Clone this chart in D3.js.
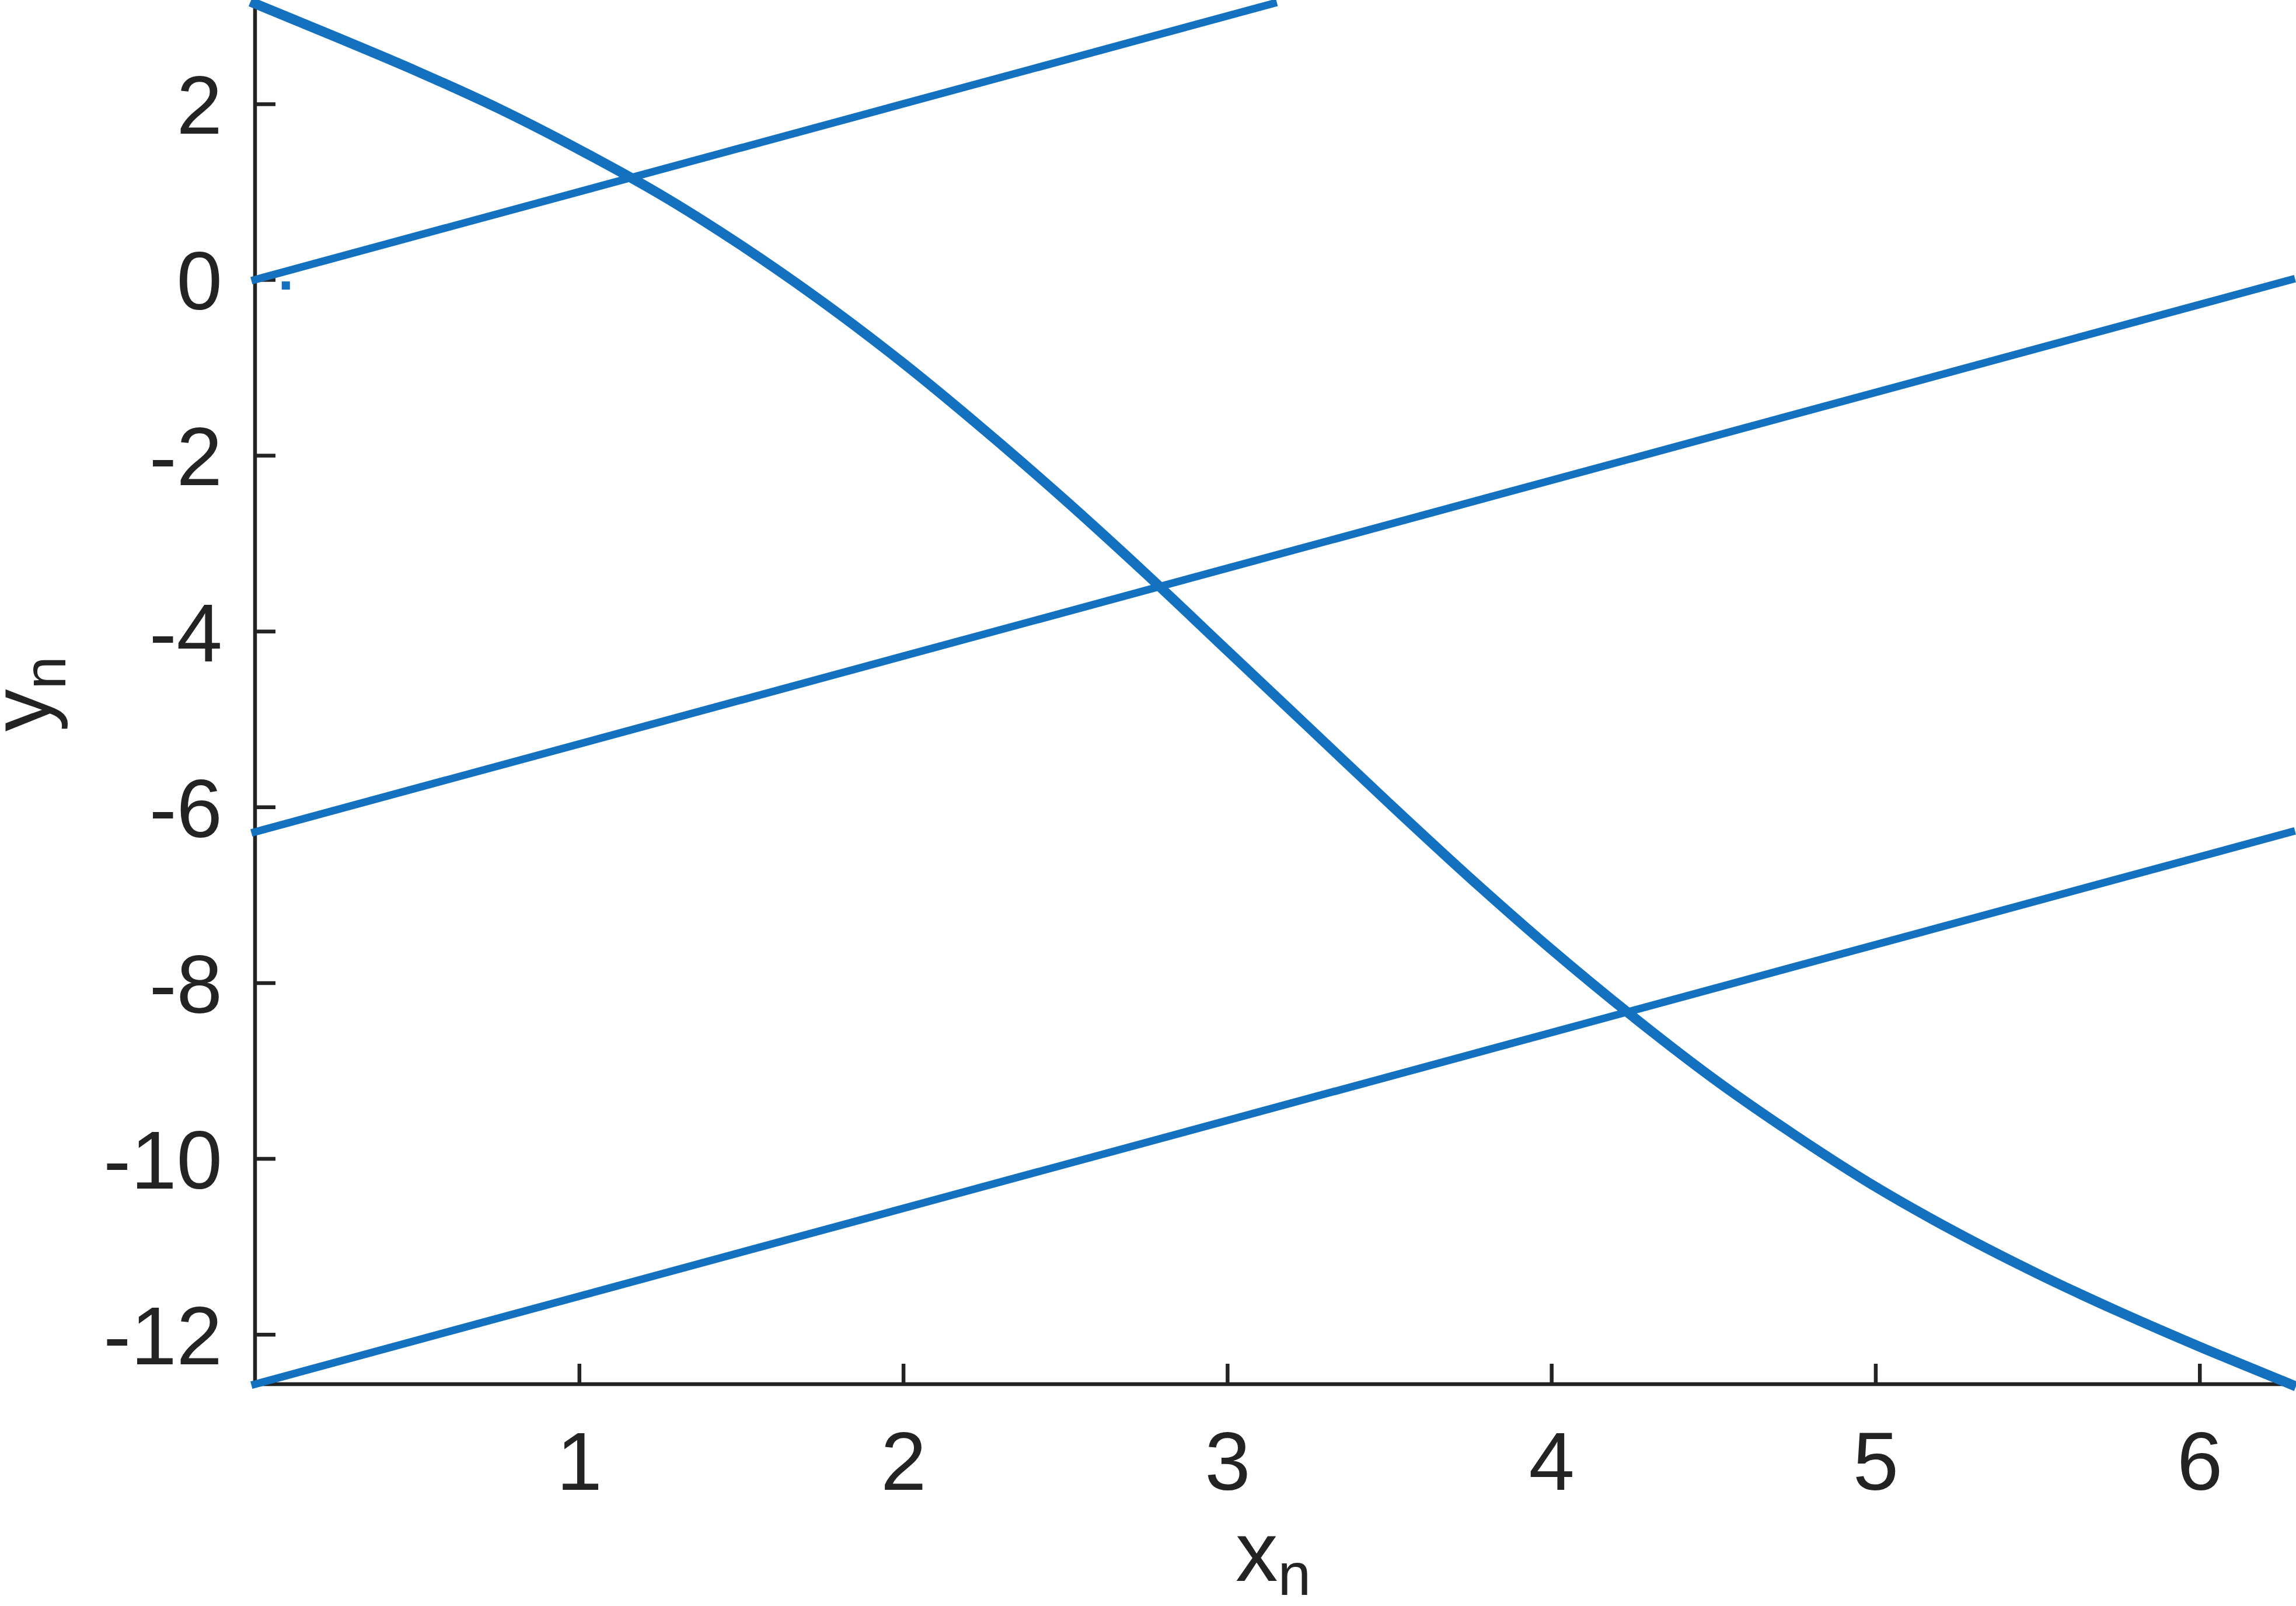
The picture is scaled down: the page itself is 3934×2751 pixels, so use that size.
<!DOCTYPE html>
<html>
<head>
<meta charset="utf-8">
<script src="https://d3js.org/d3.v7.min.js"></script>
<style>
  body { margin: 0; background: #fff; }
  text { font-family: "Liberation Sans", Arial, Helvetica, sans-serif; fill: #232323; }
</style>
</head>
<body>
<div id="chart"></div>
<script>
const PI = Math.PI;

// tick values
const xTicks = [1, 2, 3, 4, 5, 6];
const yTicks = [-12, -10, -8, -6, -4, -2, 0, 2];

// curved branch
const curveX = [0, 0.25, 0.5, 0.75, 1, 1.25, 1.5, 1.75, 2, 2.25, 2.5, 2.75, 3, 3.25, 3.5, 3.75, 4, 4.25, 4.5, 4.75, 5, 5.25, 5.5, 5.75, 6, 6.25, 6.2832];
const curveY = [3.14, 2.76, 2.37, 1.95, 1.48, 0.97, 0.39, -0.25, -0.95, -1.71, -2.51, -3.35, -4.22, -5.09, -5.96, -6.81, -7.62, -8.38, -9.09, -9.73, -10.32, -10.84, -11.31, -11.74, -12.14, -12.52, -12.57];

// straight branches (start and end points)
const lineX = [[0, 3.1416], [0, 6.2832], [0, 6.2832]];
const lineY = [[0, 3.1416], [-6.2832, 0], [-12.566, -6.2832]];

// stray point near the origin
const dotX = [0.095];
const dotY = [-0.067];

const width = 3934, height = 2751;
const margin = {top: 6, right: 8, bottom: 380, left: 437};
const blue = "#1371bf";
const ink = "#232323";

const svg = d3.select("#chart").append("svg")
  .attr("width", width)
  .attr("height", height)
  .style("background", "#fff");

const x = d3.scaleLinear()
  .domain([0, 2 * PI])
  .range([margin.left, width - margin.right]);

const y = d3.scaleLinear()
  .domain([-4 * PI, PI])
  .range([height - margin.bottom, margin.top]);

const line = d3.line()
  .x(d => x(d[0]))
  .y(d => y(d[1]));

const xAxis = svg.append("g")
  .attr("transform", "translate(0," + y(-4 * PI) + ")")
  .call(d3.axisBottom(x).tickValues(xTicks).tickSize(-35).tickFormat(d3.format("d")));

const yAxis = svg.append("g")
  .attr("transform", "translate(" + x(0) + ",0)")
  .call(d3.axisLeft(y).tickValues(yTicks).tickSize(-35).tickPadding(56).tickFormat(d => d < 0 ? "-" + Math.abs(d) : d));

[xAxis, yAxis].forEach(a => {
  a.select(".domain").attr("stroke", ink).attr("stroke-width", 6.5);
  a.selectAll(".tick line").attr("stroke", ink).attr("stroke-width", 6.5);
  a.selectAll("text").style("font-size", "141px").attr("fill", ink);
});
xAxis.selectAll(".tick text").attr("y", 181).attr("dy", 0);
yAxis.selectAll(".tick text").attr("dy", "0.36em");
xAxis.select(".domain").attr("d", "M" + x(0) + ",0H" + x(2 * PI));
yAxis.select(".domain").attr("d", "M0," + y(PI) + "V" + y(-4 * PI));

const plot = svg.append("g");

lineX.forEach((xs, i) => {
  plot.append("path")
    .datum(xs.map((v, j) => [v, lineY[i][j]]))
    .attr("d", line)
    .attr("fill", "none")
    .attr("stroke", blue)
    .attr("stroke-width", 13)
    .attr("stroke-linecap", "square");
});

plot.append("path")
  .datum(curveX.map((v, i) => [v, curveY[i]]))
  .attr("d", line.curve(d3.curveCatmullRom))
  .attr("fill", "none")
  .attr("stroke", blue)
  .attr("stroke-width", 17)
  .attr("stroke-linecap", "square")
  .attr("stroke-linejoin", "round");

plot.selectAll(".dot")
  .data(dotX)
  .enter()
  .append("rect")
  .attr("class", "dot")
  .attr("x", d => x(d) - 7)
  .attr("y", (d, i) => y(dotY[i]) - 7)
  .attr("width", 14)
  .attr("height", 14)
  .attr("fill", blue);

// axis labels
const xLabel = svg.append("text")
  .attr("x", (x(0) + x(2 * PI)) / 2)
  .attr("y", 2708)
  .attr("text-anchor", "middle")
  .style("font-size", "145px");
xLabel.append("tspan").text("x");
xLabel.append("tspan").attr("dy", 24).style("font-size", "102px").text("n");

const yLabel = svg.append("text")
  .attr("transform", "translate(86," + (y(PI) + y(-4 * PI)) / 2 + ") rotate(-90)")
  .attr("text-anchor", "middle")
  .style("font-size", "145px");
yLabel.append("tspan").text("y");
yLabel.append("tspan").attr("dy", 26).style("font-size", "102px").text("n");
</script>
</body>
</html>
